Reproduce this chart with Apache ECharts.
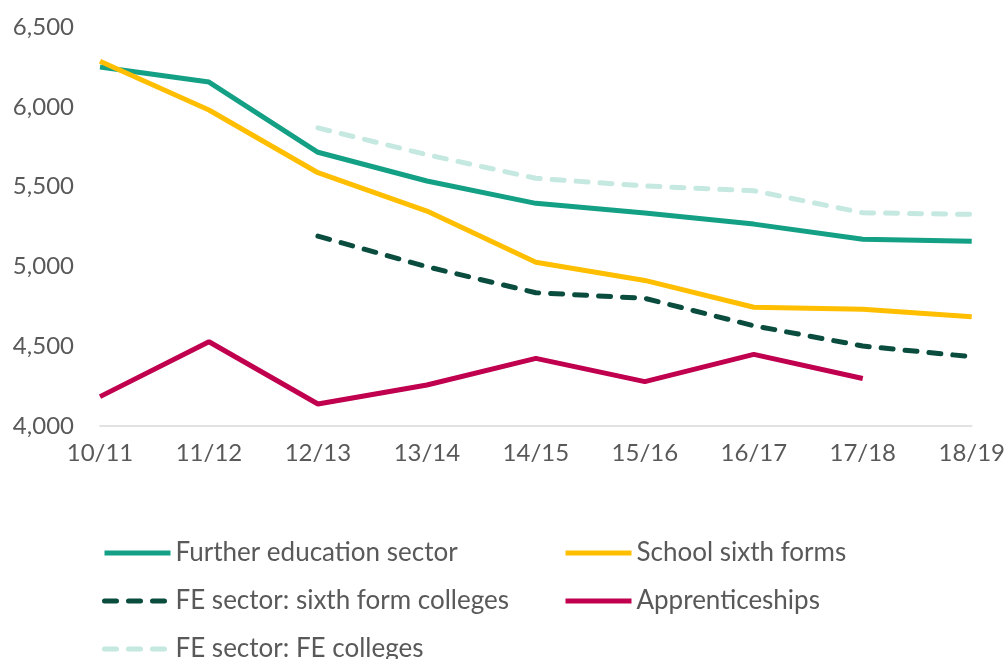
<!DOCTYPE html>
<html>
<head>
<meta charset="utf-8">
<script src="https://cdn.jsdelivr.net/npm/echarts@6/dist/echarts.min.js"></script>
<style>html,body{margin:0;padding:0;background:#fff}#c{width:1008px;height:659px}</style>
</head>
<body>
<div id="c"></div>
<script>
const categories = ['10/11','11/12','12/13','13/14','14/15','15/16','16/17','17/18','18/19'];
const furtherEducation = [6250, 6155, 5715, 5535, 5395, 5335, 5265, 5170, 5157];
const schoolSixthForms = [6285, 5980, 5587, 5347, 5026, 4912, 4744, 4731, 4685];
const sixthFormColleges = [null, null, 5190, 4998, 4835, 4800, 4628, 4501, 4434];
const apprenticeships = [4184, 4528, 4138, 4257, 4424, 4278, 4449, 4298, null];
const feColleges = [null, null, 5868, 5700, 5552, 5504, 5474, 5336, 5326];

const FONT = 'Lato';
const TXT = '#595959';
const chart = echarts.init(document.getElementById('c'));
function s(name, data, color, dashed) {
  return {
    name, type: 'line', data, symbol: 'none', connectNulls: false,
    lineStyle: dashed ? {color, width: 5, type: [12, 12], cap: 'round'} : {color, width: 5},
    itemStyle: {color}
  };
}
const legendCommon = {
  orient: 'vertical', itemGap: 22, itemWidth: 66, itemHeight: 14, height: 200,
  itemStyle: {opacity: 0},
  lineStyle: {width: 5},
  textStyle: {color: TXT, fontSize: 26, fontFamily: FONT, padding: [0,0,0,0]}
};
chart.setOption({
  animation: false,
  textStyle: {fontFamily: FONT},
  grid: {left: 100, right: 33, top: 27, bottom: 233},
  xAxis: {
    type: 'category', data: categories, boundaryGap: false,
    axisLine: {lineStyle: {color: '#d9d9d9', width: 1.5}},
    axisTick: {show: false},
    axisLabel: {color: TXT, fontSize: 24, fontFamily: FONT, margin: 15, interval: 0}
  },
  yAxis: {
    type: 'value', min: 4000, max: 6500, interval: 500,
    splitLine: {show: false},
    axisLabel: {color: TXT, fontSize: 24, fontFamily: FONT, margin: 26,
      formatter: v => v.toLocaleString('en-GB')}
  },
  legend: [
    Object.assign({left: 97, top: 535,
     data: ['Further education sector', 'FE sector: sixth form colleges', 'FE sector: FE colleges']}, legendCommon),
    Object.assign({left: 558, top: 535,
     data: ['School sixth forms', 'Apprenticeships']}, legendCommon)
  ],
  series: [
    s('FE sector: FE colleges', feColleges, '#c5e8e0', true),
    s('Further education sector', furtherEducation, '#14a085', false),
    s('School sixth forms', schoolSixthForms, '#ffbf00', false),
    s('FE sector: sixth form colleges', sixthFormColleges, '#0a4d3f', true),
    s('Apprenticeships', apprenticeships, '#c0004f', false)
  ]
});
</script>
</body>
</html>
